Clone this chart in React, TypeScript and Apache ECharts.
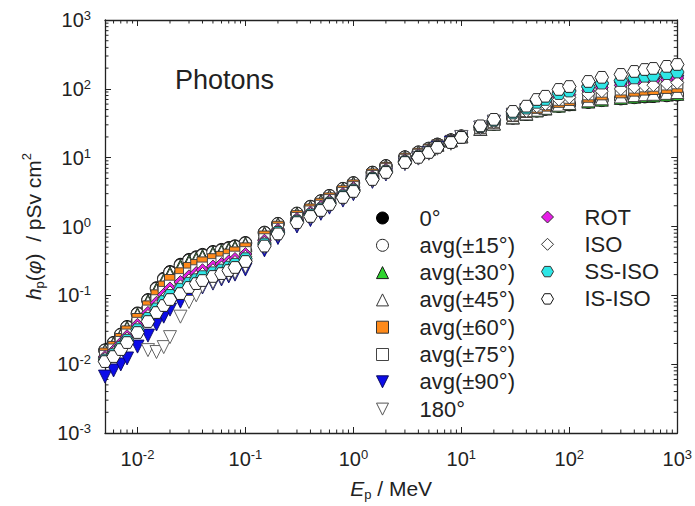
import { useEffect, useRef } from "react";
import * as echarts from "echarts";

// photon energies / MeV
const energies = [0.005, 0.006, 0.007, 0.008, 0.01, 0.0125, 0.015, 0.0175, 0.02, 0.025, 0.03, 0.035, 0.04, 0.05, 0.06, 0.07, 0.08, 0.1, 0.15, 0.2, 0.3, 0.4, 0.5, 0.6, 0.8, 1, 1.5, 2, 3, 4, 5, 6, 8, 10, 15, 20, 30, 40, 50, 60, 80, 100, 150, 200, 300, 400, 500, 600, 800, 1000];

const deg0 = [0.016, 0.0205, 0.027, 0.035, 0.055, 0.086, 0.128, 0.175, 0.22, 0.28, 0.33, 0.36, 0.39, 0.43, 0.46, 0.49, 0.52, 0.58, 0.82, 1.1, 1.55, 1.95, 2.35, 2.8, 3.55, 4.3, 6.1, 7.6, 10.2, 12.0, 13.6, 15.6, 18.0, 20.5, 26, 31, 38, 43, 48, 51, 56, 59, 64, 68, 72, 75, 77, 78, 80, 82];
const avg15 = [0.0158, 0.0202, 0.0266, 0.0344, 0.0539, 0.0841, 0.125, 0.17, 0.214, 0.272, 0.321, 0.351, 0.38, 0.419, 0.449, 0.479, 0.509, 0.569, 0.809, 1.09, 1.54, 1.93, 2.33, 2.78, 3.52, 4.26, 6.06, 7.55, 10.15, 11.94, 13.55, 15.55, 17.96, 20.5, 26.06, 31.1, 38.2, 43.2, 48.4, 51.4, 56.6, 59.7, 64.9, 69.1, 73.2, 76.3, 78.4, 79.5, 81.6, 83.7];
const avg30 = [0.0157, 0.02, 0.0263, 0.0341, 0.0532, 0.0829, 0.123, 0.167, 0.21, 0.267, 0.315, 0.344, 0.373, 0.413, 0.442, 0.472, 0.502, 0.562, 0.801, 1.08, 1.53, 1.92, 2.31, 2.76, 3.5, 4.24, 6.03, 7.52, 10.1, 11.9, 13.5, 15.5, 17.93, 20.4, 26.08, 31.14, 38.2, 43.3, 48.5, 51.7, 57.0, 60.1, 65.3, 69.6, 73.8, 77.0, 79.1, 80.2, 82.4, 84.5];
const avg45 = [0.0153, 0.0194, 0.0254, 0.0328, 0.0509, 0.0789, 0.116, 0.157, 0.197, 0.249, 0.295, 0.324, 0.352, 0.389, 0.418, 0.447, 0.477, 0.538, 0.776, 1.056, 1.494, 1.874, 2.26, 2.7, 3.43, 4.15, 5.93, 7.4, 9.98, 11.76, 13.4, 15.4, 17.83, 20.4, 26.26, 31.4, 38.7, 44.0, 49.7, 53.0, 58.9, 62.3, 68.1, 72.9, 77.5, 81.1, 83.6, 84.8, 87.4, 89.8];
const avg60 = [0.0143, 0.0178, 0.0232, 0.0299, 0.0453, 0.0691, 0.1, 0.134, 0.167, 0.209, 0.25, 0.276, 0.301, 0.335, 0.362, 0.39, 0.42, 0.481, 0.715, 0.992, 1.413, 1.765, 2.14, 2.56, 3.25, 3.95, 5.69, 7.11, 9.66, 11.4, 13.07, 15.13, 17.57, 20.3, 26.75, 32.2, 40.2, 46.1, 52.9, 57.0, 64.8, 69.0, 76.7, 83.1, 88.9, 94.1, 97.5, 99.4, 103.1, 106.8];
const avg75 = [0.0132, 0.0163, 0.021, 0.0269, 0.0398, 0.0599, 0.0848, 0.112, 0.138, 0.172, 0.207, 0.231, 0.253, 0.284, 0.309, 0.335, 0.364, 0.424, 0.653, 0.926, 1.329, 1.652, 2.0, 2.42, 3.06, 3.73, 5.42, 6.81, 9.31, 11.0, 12.72, 14.84, 17.29, 20.2, 27.1, 32.8, 41.2, 47.6, 55.4, 59.9, 69.3, 74.2, 83.3, 91.1, 98.0, 104.4, 108.8, 111.2, 115.8, 120.5];
const avg90 = [0.0066, 0.0081, 0.0099, 0.0121, 0.018, 0.026, 0.0377, 0.049, 0.062, 0.081, 0.099, 0.114, 0.13, 0.148, 0.17, 0.188, 0.2, 0.237, 0.45, 0.68, 1.0, 1.24, 1.53, 1.88, 2.38, 2.95, 4.45, 5.7, 8.1, 9.7, 11.6, 13.9, 16.5, 19.8, 27.25, 33.1, 41.6, 48.2, 56.4, 61.2, 71.2, 76.5, 86.2, 94.7, 102, 109, 113.8, 116.4, 121.7, 126.8];
const deg180 = [null, null, null, null, null, 0.016, 0.015, 0.0177, 0.0247, 0.049, 0.08, 0.1, 0.135, 0.155, 0.18, 0.2, 0.215, 0.26, 0.5, 0.75, 1.09, 1.34, 1.64, 2.0, 2.53, 3.1, 4.63, 5.86, 8.16, 9.7, 11.4, 13.5, 15.9, 20.0, 27.46, 33.4, 42.3, 49.1, 58.0, 63.1, 74.1, 79.8, 90.5, 100, 108, 115.9, 121.3, 124.3, 130.2, 136.2];
const rot = [0.0127, 0.0155, 0.02, 0.0255, 0.0373, 0.0557, 0.0781, 0.102, 0.126, 0.156, 0.189, 0.211, 0.232, 0.262, 0.285, 0.311, 0.338, 0.398, 0.623, 0.895, 1.289, 1.599, 1.94, 2.35, 2.97, 3.62, 5.3, 6.66, 9.15, 10.8, 12.55, 14.69, 17.15, 20.1, 27.6, 33.7, 42.7, 49.7, 59.1, 64.4, 76.2, 82.3, 93.7, 103.9, 112.5, 121, 126.9, 130.2, 136.7, 143.3];
const iso = [0.012, 0.0145, 0.0185, 0.0235, 0.0339, 0.05, 0.0691, 0.0891, 0.11, 0.135, 0.164, 0.185, 0.204, 0.231, 0.253, 0.277, 0.304, 0.363, 0.582, 0.85, 1.231, 1.521, 1.85, 2.25, 2.84, 3.47, 5.11, 6.45, 8.9, 10.55, 12.3, 14.46, 16.95, 20.0, 27.2, 32.9, 41.4, 47.8, 55.8, 60.4, 70.1, 75.2, 84.5, 92.5, 99.6, 106.2, 110.7, 113.2, 118.2, 123];
const ssIso = [0.0115, 0.0138, 0.0176, 0.0223, 0.0317, 0.0464, 0.0636, 0.0814, 0.0999, 0.123, 0.15, 0.169, 0.187, 0.213, 0.233, 0.257, 0.283, 0.341, 0.557, 0.822, 1.193, 1.471, 1.79, 2.18, 2.76, 3.37, 5.0, 6.3, 8.73, 10.37, 12.15, 14.32, 16.81, 19.9, 28.2, 34.7, 44.6, 52.4, 63.7, 70.1, 85.2, 92.9, 107.6, 121, 132, 144, 152.2, 156.9, 166.2, 175.4];
const isIso = [0.0109, 0.0129, 0.0163, 0.0206, 0.0288, 0.0416, 0.0562, 0.0711, 0.0869, 0.106, 0.13, 0.148, 0.164, 0.188, 0.207, 0.229, 0.254, 0.31, 0.52, 0.78, 1.14, 1.4, 1.71, 2.09, 2.64, 3.23, 4.82, 6.1, 8.5, 10.1, 11.9, 14.1, 16.6, 19.7, 29, 36, 47, 56, 70, 78, 98, 108, 128, 147, 162, 179, 191, 198, 212, 226];

const seriesNames = ["0°", "avg(±15°)", "avg(±30°)", "avg(±45°)", "avg(±60°)", "avg(±75°)", "avg(±90°)", "180°", "ROT", "ISO", "SS-ISO", "IS-ISO"];
const seriesValues = [deg0, avg15, avg30, avg45, avg60, avg75, avg90, deg180, rot, iso, ssIso, isIso];

const xDecades = [-2, -1, 0, 1, 2, 3];
const yDecades = [-3, -2, -1, 0, 1, 2, 3];
const xMin = 0.005, xMax = 1000, yMin = 0.001, yMax = 1000;

const FONT = "'Liberation Sans', Arial, Helvetica, sans-serif";
const TXT = "#222";
const HEX = "path://M0,43.3L25,0L75,0L100,43.3L75,86.6L25,86.6Z";
const DOWN = "path://M0,0L100,0L50,100Z";

const styles = [
  { symbol: "circle", size: 12.5, fill: "#000000", border: "#000000" },
  { symbol: "circle", size: 12.5, fill: "#ffffff", border: "#222222" },
  { symbol: "triangle", size: 13, fill: "#2fd42f", border: "#1a1a1a" },
  { symbol: "triangle", size: 13, fill: "#ffffff", border: "#333333" },
  { symbol: "rect", size: 11, fill: "#ff8a1a", border: "#333333" },
  { symbol: "rect", size: 11, fill: "#ffffff", border: "#444444" },
  { symbol: DOWN, size: 13, fill: "#0c0ce8", border: "#0a0a60" },
  { symbol: DOWN, size: 13, fill: "#ffffff", border: "#555555" },
  { symbol: "diamond", size: 13, fill: "#e61ee6", border: "#333333" },
  { symbol: "diamond", size: 13, fill: "#ffffff", border: "#333333" },
  { symbol: HEX, size: 13.5, fill: "#2ee6e6", border: "#333333" },
  { symbol: HEX, size: 13.5, fill: "#ffffff", border: "#111111" },
];

function decadeLabel(v: number, decades: number[]) {
  const l = Math.log10(v);
  const e = Math.round(l);
  if (Math.abs(l - e) > 1e-6 || decades.indexOf(e) < 0) return "";
  return "{b|10}{s|" + e + "}";
}

const labelRich = {
  b: { fontSize: 20, fontFamily: FONT, color: TXT, lineHeight: 22 },
  s: { fontSize: 13, fontFamily: FONT, color: TXT, lineHeight: 12, verticalAlign: "top" },
};

const titleRich = {
  i: { fontSize: 21, fontStyle: "italic", fontFamily: FONT, color: TXT, lineHeight: 26 },
  n: { fontSize: 21, fontFamily: FONT, color: TXT, lineHeight: 26 },
  sub: { fontSize: 13, fontFamily: FONT, color: TXT, lineHeight: 10, verticalAlign: "bottom" },
  sup: { fontSize: 13, fontFamily: FONT, color: TXT, lineHeight: 10, verticalAlign: "top" },
};

export default function App() {
  const ref = useRef<HTMLDivElement>(null);
  useEffect(() => {
    const chart = echarts.init(ref.current!, null, { renderer: "svg" });

    const minorData: number[][] = [];
    for (let d = -3; d <= 2; d++) {
      for (let k = 2; k <= 9; k++) {
        const v = k * Math.pow(10, d);
        if (v > xMin * 1.0001 && v < xMax) minorData.push([v, 1, 0]);
        if (v > yMin && v < yMax) minorData.push([1, v, 1]);
      }
    }

    const scatter = seriesNames.map((name, si) => {
      const st = styles[si];
      const vals = seriesValues[si];
      const data: number[][] = [];
      energies.forEach((e, i) => {
        const v = vals[i];
        if (v !== null && v !== undefined) data.push([e, v as number]);
      });
      return {
        type: "scatter",
        name,
        data,
        symbol: st.symbol,
        symbolSize: st.size,
        symbolKeepAspect: true,
        itemStyle: { color: st.fill, borderColor: st.border, borderWidth: 0.9, opacity: 1 },
        emphasis: { disabled: true },
        xAxisIndex: 0,
        yAxisIndex: 0,
      };
    });

    const axisLine = { show: true, lineStyle: { color: "#222", width: 1.3 } };
    const majorTick = { show: true, inside: true, length: 6, lineStyle: { color: "#222", width: 1 } };

    const legendCommon = {
      orient: "vertical",
      padding: 0,
      itemWidth: 12,
      itemHeight: 12,
      itemGap: 3.3,
      selectedMode: false,
      itemStyle: { borderWidth: 1 },
      textStyle: { fontSize: 22, fontFamily: FONT, color: TXT, lineHeight: 24, padding: [0, 0, 0, 26] },
    };

    const option: any = {
      animation: false,
      backgroundColor: "#ffffff",
      grid: { left: 105, top: 20, right: 15, bottom: 73, show: false },
      xAxis: [
        {
          type: "log",
          logBase: 10,
          min: xMin,
          max: xMax,
          splitNumber: 5,
          position: "bottom",
          axisLine,
          axisTick: majorTick,
          splitLine: { show: false },
          axisLabel: {
            margin: 15,
            formatter: (v: number) => decadeLabel(v, xDecades),
            rich: labelRich,
            showMinLabel: true,
            showMaxLabel: true,
            hideOverlap: false,
          },
          name: "{i|E}{sub|p}{n| / MeV}",
          nameLocation: "middle",
          nameGap: 42,
          nameTextStyle: { rich: titleRich },
        },
        {
          type: "log",
          logBase: 10,
          min: xMin,
          max: xMax,
          splitNumber: 5,
          position: "top",
          axisLine,
          axisTick: majorTick,
          splitLine: { show: false },
          axisLabel: { show: false },
        },
      ],
      yAxis: [
        {
          type: "log",
          logBase: 10,
          min: yMin,
          max: yMax,
          splitNumber: 6,
          position: "left",
          axisLine,
          axisTick: majorTick,
          splitLine: { show: false },
          axisLabel: {
            margin: 14,
            formatter: (v: number) => decadeLabel(v, yDecades),
            rich: labelRich,
            showMinLabel: true,
            showMaxLabel: true,
            hideOverlap: false,
          },
          name: "{i|h}{sub|p}{n|(}{i|φ}{n|)  / pSv cm}{sup|2}",
          nameLocation: "middle",
          nameRotate: 90,
          nameGap: 59,
          nameTextStyle: { rich: titleRich },
        },
        {
          type: "log",
          logBase: 10,
          min: yMin,
          max: yMax,
          splitNumber: 6,
          position: "right",
          axisLine,
          axisTick: majorTick,
          splitLine: { show: false },
          axisLabel: { show: false },
        },
      ],
      legend: [
        { ...legendCommon, data: seriesNames.slice(0, 8), left: 376, top: 206 },
        { ...legendCommon, data: seriesNames.slice(8), left: 541, top: 205 },
      ],
      graphic: [
        {
          type: "text",
          left: 175,
          top: 66,
          style: { text: "Photons", fontSize: 27, fontFamily: FONT, fill: TXT },
        },
      ],
      series: [
        {
          type: "custom",
          name: "minor-ticks",
          silent: true,
          xAxisIndex: 0,
          yAxisIndex: 0,
          data: minorData,
          clip: false,
          renderItem: (params: any, api: any) => {
            const cs = params.coordSys;
            const len = 3.5;
            const st = { stroke: "#222", lineWidth: 1 };
            if (api.value(2) === 0) {
              const px = api.coord([api.value(0), 1])[0];
              return {
                type: "group",
                children: [
                  { type: "line", shape: { x1: px, y1: cs.y + cs.height, x2: px, y2: cs.y + cs.height - len }, style: st },
                  { type: "line", shape: { x1: px, y1: cs.y, x2: px, y2: cs.y + len }, style: st },
                ],
              };
            }
            const py = api.coord([1, api.value(1)])[1];
            return {
              type: "group",
              children: [
                { type: "line", shape: { x1: cs.x, y1: py, x2: cs.x + len, y2: py }, style: st },
                { type: "line", shape: { x1: cs.x + cs.width, y1: py, x2: cs.x + cs.width - len, y2: py }, style: st },
              ],
            };
          },
        },
        ...scatter,
      ],
    };

    chart.setOption(option);
    return () => chart.dispose();
  }, []);

  return (
    <div
      ref={ref}
      style={{ position: "fixed", left: 0, top: 0, width: 695, height: 506, background: "#fff" }}
    />
  );
}
